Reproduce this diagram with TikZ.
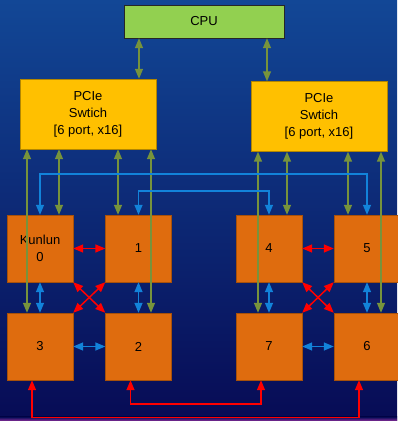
\documentclass[tikz,border=0pt]{standalone}
\usepackage{fontspec}
\setmainfont{Liberation Sans}
\usetikzlibrary{arrows.meta, positioning}

\definecolor{bgtop}{HTML}{124796}
\definecolor{bgmid}{HTML}{09195F}
\definecolor{bgbot}{HTML}{070B55}
\definecolor{glow}{HTML}{8A2C9A}
\definecolor{chipor}{HTML}{DF6C0E}
\definecolor{swyel}{HTML}{FFC000}
\definecolor{cpugrn}{HTML}{92D050}
\definecolor{olv}{HTML}{77933C}
\definecolor{lnkblue}{HTML}{1283DA}

\begin{document}
\begin{tikzpicture}[x=1pt, y=1pt, font=\fontsize{13}{17}\selectfont,
    >={Triangle[length=10pt, width=8pt]},
    chip/.style={draw=chipor!75!black, fill=chipor, minimum width=66pt, minimum height=67pt, inner sep=0pt, align=center},
    switch/.style={draw=swyel!70!black, fill=swyel, minimum width=136pt, minimum height=70pt, inner sep=0pt, align=center},
    cpubox/.style={draw=black!85, fill=cpugrn, minimum width=160pt, minimum height=33pt, inner sep=0pt},
    olivelink/.style={<->, draw=olv, line width=1.5pt},
    bluelink/.style={<->, draw=lnkblue, line width=1.5pt},
    redlink/.style={<->, draw=red, line width=1.5pt}]
    \useasboundingbox (0,0) rectangle (397,421);
    \shade[top color=bgtop, middle color=bgmid, bottom color=bgbot] (0,0) rectangle (397,421);
    \shade[top color=bgbot, bottom color=glow] (0,0) rectangle (397,4);

    \node[cpubox] (cpu) at (204,399.5) {CPU};
    \node[switch] (swl) at (88,307) {PCIe\\Swtich\\{}[6 port, x16]};
    \node[switch] (swr) at (319,304.5) {PCIe\\Swtich\\{}[6 port, x16]};

    \node[chip] (k0) at (40,172.5) {Kunlun\\0};
    \node[chip] (k1) at (138.5,172.5) {1};
    \node[chip] (k4) at (269,172.5) {4};
    \node[chip] (k5) at (367,172.5) {5};
    \node[chip] (k3) at (40,74.5) {3};
    \node[chip] (k2) at (138.5,74.5) {2};
    \node[chip] (k7) at (269,74.5) {7};
    \node[chip] (k6) at (367,74.5) {6};

    \draw[olivelink] (cpu.south -| 139,0) -- (swl.north -| 139,0);
    \draw[olivelink] (cpu.south -| 267,0) -- (swr.north -| 267,0);

    \draw[olivelink] (swl.south -| 27,0) -- (k3.north -| 27,0);
    \draw[olivelink] (swl.south -| 59,0) -- (k0.north -| 59,0);
    \draw[olivelink] (swl.south -| 118,0) -- (k1.north -| 118,0);
    \draw[olivelink] (swl.south -| 151,0) -- (k2.north -| 151,0);
    \draw[olivelink] (swr.south -| 258,0) -- (k7.north -| 258,0);
    \draw[olivelink] (swr.south -| 287,0) -- (k4.north -| 287,0);
    \draw[olivelink] (swr.south -| 348,0) -- (k5.north -| 348,0);
    \draw[olivelink] (swr.south -| 381,0) -- (k6.north -| 381,0);

    \draw[bluelink] (k0.north) -- ++(0,41) -| (k5.north);
    \draw[bluelink] (k1.north) -- ++(0,24) -| (k4.north);
    \draw[bluelink] (k0) -- (k3);
    \draw[bluelink] (k1) -- (k2);
    \draw[bluelink] (k4) -- (k7);
    \draw[bluelink] (k5) -- (k6);
    \draw[bluelink] (k3) -- (k2);
    \draw[bluelink] (k7) -- (k6);

    \draw[redlink] (k0) -- (k1);
    \draw[redlink] (k4) -- (k5);
    \draw[redlink] (k0.south east) -- (k2.north west);
    \draw[redlink] (k1.south west) -- (k3.north east);
    \draw[redlink] (k4.south east) -- (k6.north west);
    \draw[redlink] (k5.south west) -- (k7.north east);
    \draw[redlink] ([xshift=-8pt]k3.south) -- ++(0,-37.5) -| ([xshift=-8pt]k6.south);
    \draw[redlink] ([xshift=-8pt]k2.south) -- ++(0,-24) -| ([xshift=-8pt]k7.south);
\end{tikzpicture}
\end{document}
